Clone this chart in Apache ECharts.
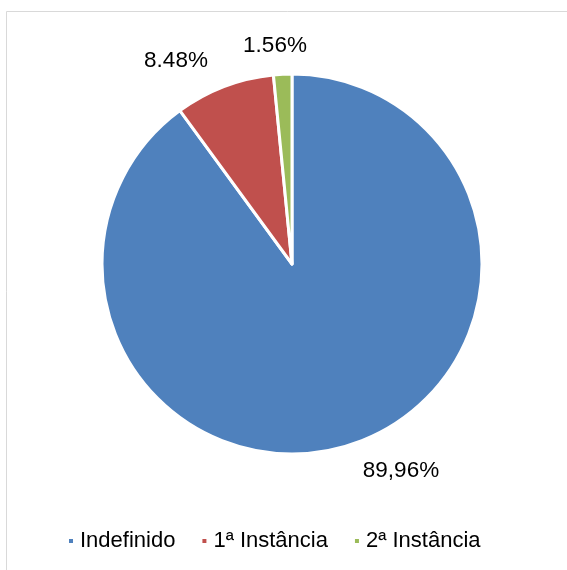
<!DOCTYPE html>
<html>
<head>
<meta charset="utf-8">
<script src="https://cdn.jsdelivr.net/npm/echarts@6/dist/echarts.min.js"></script>
<style>
html,body{margin:0;padding:0;background:#fff;}
#chart{width:567px;height:570px;}
</style>
</head>
<body>
<div id="chart"></div>
<script>
const categories = ['Indefinido', '1ª Instância', '2ª Instância'];
const values = [89.96, 8.48, 1.56];
const labelTexts = ['89,96%', '8.48%', '1.56%'];
const colors = ['#4F81BD', '#C0504D', '#9BBB59'];
// label anchor offsets relative to pie centre (px)
const labelOffsets = [[109, 207], [-116, -203], [-17, -218]];

const cx = 292, cy = 264;
const chart = echarts.init(document.getElementById('chart'), null, {renderer: 'canvas'});
chart.setOption({
  animation: false,
  backgroundColor: '#fff',
  color: colors,
  graphic: [{
    type: 'rect',
    shape: {x: 6.5, y: 11.5, width: 700, height: 700},
    style: {fill: 'none', stroke: '#d9d9d9', lineWidth: 1},
    silent: true, z: -1
  }],
  legend: {
    left: 62,
    top: 525,
    icon: 'rect',
    itemWidth: 6,
    itemHeight: 6,
    itemGap: 25,
    textStyle: {fontFamily: 'Liberation Sans, Arial', fontSize: 22, color: '#000', padding: [0, 0, 0, 1]},
    data: categories
  },
  series: [{
    type: 'pie',
    center: [cx, cy],
    radius: [0, 190],
    startAngle: 90,
    clockwise: true,
    itemStyle: {borderColor: '#fff', borderWidth: 3},
    label: {
      show: true,
      position: 'outside',
      fontFamily: 'Liberation Sans, Arial',
      fontSize: 22.5,
      color: '#000',
      formatter: p => labelTexts[p.dataIndex]
    },
    labelLine: {show: false},
    labelLayout: function (p) {
      const o = labelOffsets[p.dataIndex];
      return {x: cx + o[0], y: cy + o[1], align: 'center', verticalAlign: 'middle'};
    },
    emphasis: {disabled: true},
    data: categories.map((c, i) => ({name: c, value: values[i]}))
  }]
});
</script>
</body>
</html>
